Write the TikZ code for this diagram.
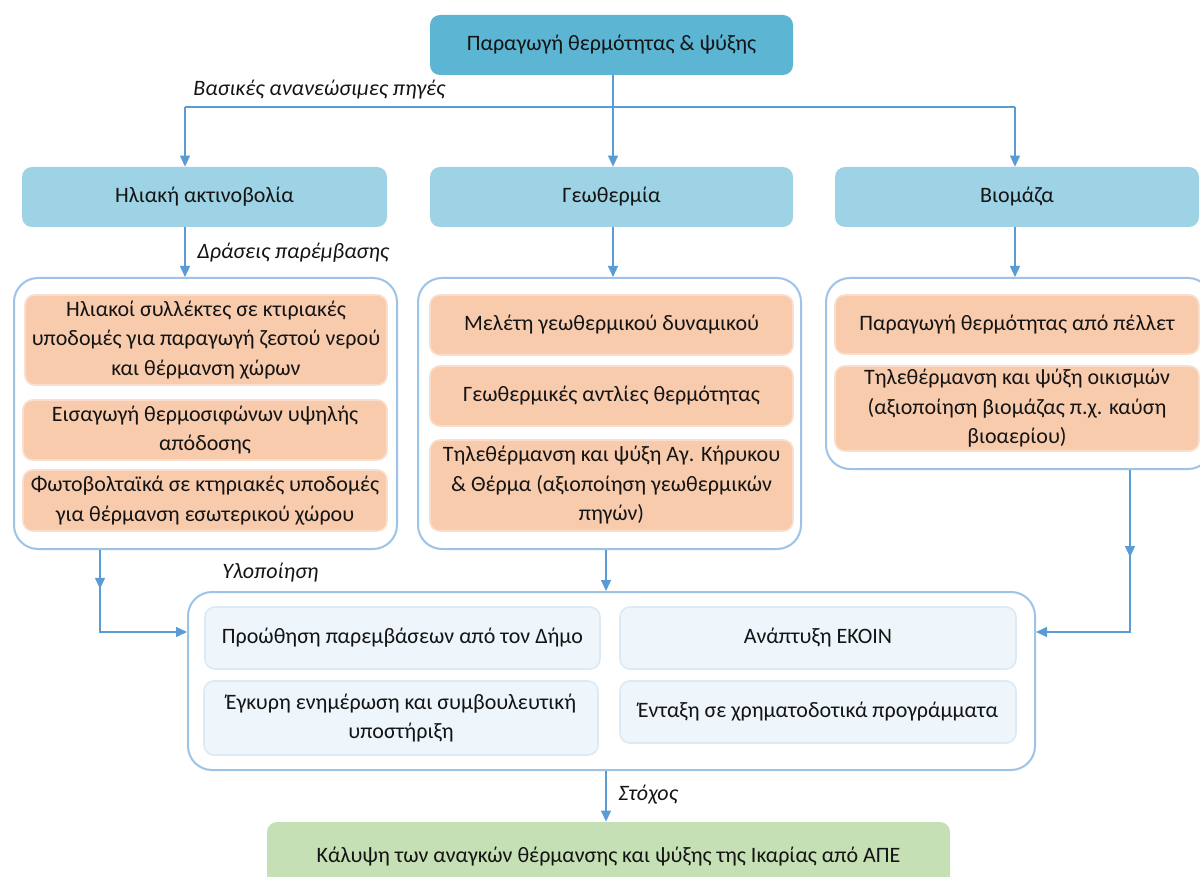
\documentclass[tikz,border=0pt]{standalone}
\usepackage{fontspec}
\setmainfont{Carlito}
\usetikzlibrary{arrows.meta,decorations.markings}

\definecolor{topblue}{HTML}{5BB5D3}
\definecolor{srcblue}{HTML}{9DD3E5}
\definecolor{linkblue}{HTML}{5B9BD5}
\definecolor{frameblue}{HTML}{9DC3E6}
\definecolor{peach}{HTML}{F8CBAD}
\definecolor{peachedge}{HTML}{FADDCB}
\definecolor{paleblue}{HTML}{EEF6FB}
\definecolor{paleedge}{HTML}{DCEAF5}
\definecolor{goalgreen}{HTML}{C5E0B4}
\definecolor{ink}{HTML}{141414}

\newcommand\boxfont{\fontsize{11}{14.75}\selectfont}

\begin{document}
\begin{tikzpicture}[x=0.5pt,y=-0.5pt,
  every node/.style={text=ink},
  card/.style={rectangle, rounded corners=5pt, align=center, inner sep=1pt, font=\boxfont},
  headbox/.style={card, fill=topblue},
  srcbox/.style={card, fill=srcblue},
  actbox/.style={card, fill=peach, draw=peachedge, line width=0.8pt},
  implbox/.style={card, fill=paleblue, draw=paleedge, line width=0.8pt},
  goalbox/.style={card, fill=goalgreen},
  frame/.style={rectangle, rounded corners=12pt, fill=white, draw=frameblue, line width=1pt},
  tag/.style={anchor=west, font=\boxfont\itshape, inner sep=0pt},
  conn/.style={draw=linkblue, line width=0.6pt},
  tip/.tip={Triangle[width=5pt,length=5.5pt]},
  arr/.style={conn, -tip},
  midarrow/.style={postaction={decorate}, decoration={markings,
    mark=at position #1 with {\arrow{Triangle[width=5pt,length=5.5pt]}}}}
]
\useasboundingbox (0,0) rectangle (1200,877);

% header and the three renewable sources
\node[headbox, minimum width=181.5pt, minimum height=30pt] (top) at (611.5,45) {Παραγωγή θερμότητας \& ψύξης};
\node[srcbox, minimum width=182.5pt, minimum height=30pt] (solar) at (204.5,197) {Ηλιακή ακτινοβολία};
\node[srcbox, minimum width=181.5pt, minimum height=30pt] (geo) at (611.5,197) {Γεωθερμία};
\node[srcbox, minimum width=182pt, minimum height=30pt] (bio) at (1017,197) {Βιομάζα};

% action groups
\node[frame, minimum width=191.5pt, minimum height=135.5pt] (solarC) at (205.5,413.5) {};
\node[frame, minimum width=191.5pt, minimum height=135.5pt] (geoC) at (609.5,413.5) {};
\node[frame, minimum width=193pt, minimum height=95.5pt] (bioC) at (1019,373.5) {};

\node[actbox, minimum width=181pt, minimum height=45pt] (s1) at (206,340)
  {Ηλιακοί συλλέκτες σε κτιριακές\\υποδομές για παραγωγή ζεστού νερού\\και θέρμανση χώρων};
\node[actbox, minimum width=182pt, minimum height=30pt] (s2) at (205,430)
  {Εισαγωγή θερμοσιφώνων υψηλής\\απόδοσης};
\node[actbox, minimum width=182pt, minimum height=30.5pt] (s3) at (205,500.5)
  {Φωτοβολταϊκά σε κτηριακές υποδομές\\για θέρμανση εσωτερικού χώρου};

\node[actbox, minimum width=181.5pt, minimum height=30pt] (g1) at (611.5,325)
  {Μελέτη γεωθερμικού δυναμικού};
\node[actbox, minimum width=181.5pt, minimum height=30pt] (g2) at (611.5,396)
  {Γεωθερμικές αντλίες θερμότητας};
\node[actbox, minimum width=181.5pt, minimum height=45.5pt] (g3) at (611.5,485.5)
  {Τηλεθέρμανση και ψύξη Αγ. Κήρυκου\\\& Θέρμα (αξιοποίηση γεωθερμικών\\πηγών)};

\node[actbox, minimum width=182pt, minimum height=29.5pt] (b1) at (1017,324.5)
  {Παραγωγή θερμότητας από πέλλετ};
\node[actbox, minimum width=182pt, minimum height=42.5pt] (b2) at (1017,408.5)
  {Τηλεθέρμανση και ψύξη οικισμών\\(αξιοποίηση βιομάζας π.χ. καύση\\βιοαερίου)};

% implementation
\node[frame, minimum width=423.5pt, minimum height=89pt] (impl) at (611.5,681) {};
\node[implbox, minimum width=197.5pt, minimum height=31pt] (l1) at (402.5,638)
  {Προώθηση παρεμβάσεων από τον Δήμο};
\node[implbox, minimum width=197pt, minimum height=37pt] (l2) at (401,718)
  {Έγκυρη ενημέρωση και συμβουλευτική\\υποστήριξη};
\node[implbox, minimum width=198pt, minimum height=31pt] (r1) at (818,638)
  {Ανάπτυξη ΕΚΟΙΝ};
\node[implbox, minimum width=198pt, minimum height=31pt] (r2) at (818,712)
  {Ένταξη σε χρηματοδοτικά προγράμματα};

% goal
\node[goalbox, minimum width=341.5pt, minimum height=35pt] (goal) at (608.5,857)
  {Κάλυψη των αναγκών θέρμανσης και ψύξης της Ικαρίας από ΑΠΕ};

% branching points of the connectors
\coordinate (split) at (613,107);
\coordinate (sx) at (185,107);
\coordinate (bx) at (1015,107);
\coordinate (gx) at (606,0);
\coordinate (sdrop) at (100,632);
\coordinate (bdrop) at (1130,632);

\draw[conn] (sx) -- (bx);
\draw[arr] (top.south -| split) -- (geo.north -| split);
\draw[arr] (sx) -- (solar.north -| sx);
\draw[arr] (bx) -- (bio.north -| bx);

\draw[arr] (solar.south -| sx) -- (solarC.north -| sx);
\draw[arr] (geo.south -| split) -- (geoC.north -| split);
\draw[arr] (bio.south -| bx) -- (bioC.north -| bx);

\draw[arr, midarrow=0.23] (solarC.south -| sdrop) -- (sdrop) -- (impl.west |- sdrop);
\draw[arr, midarrow=0.34] (bioC.south -| bdrop) -- (bdrop) -- (impl.east |- bdrop);
\draw[arr] (geoC.south -| gx) -- (impl.north -| gx);
\draw[arr] (impl.south -| gx) -- (goal.north -| gx);

% connector labels
\node[tag] (lsrc) at (193,90) {Βασικές ανανεώσιμες πηγές};
\node[tag] (lact) at (197,253) {Δράσεις παρέμβασης};
\node[tag] (limp) at (222,573) {Υλοποίηση};
\node[tag] (lgoal) at (618,795) {Στόχος};
\end{tikzpicture}
\end{document}
